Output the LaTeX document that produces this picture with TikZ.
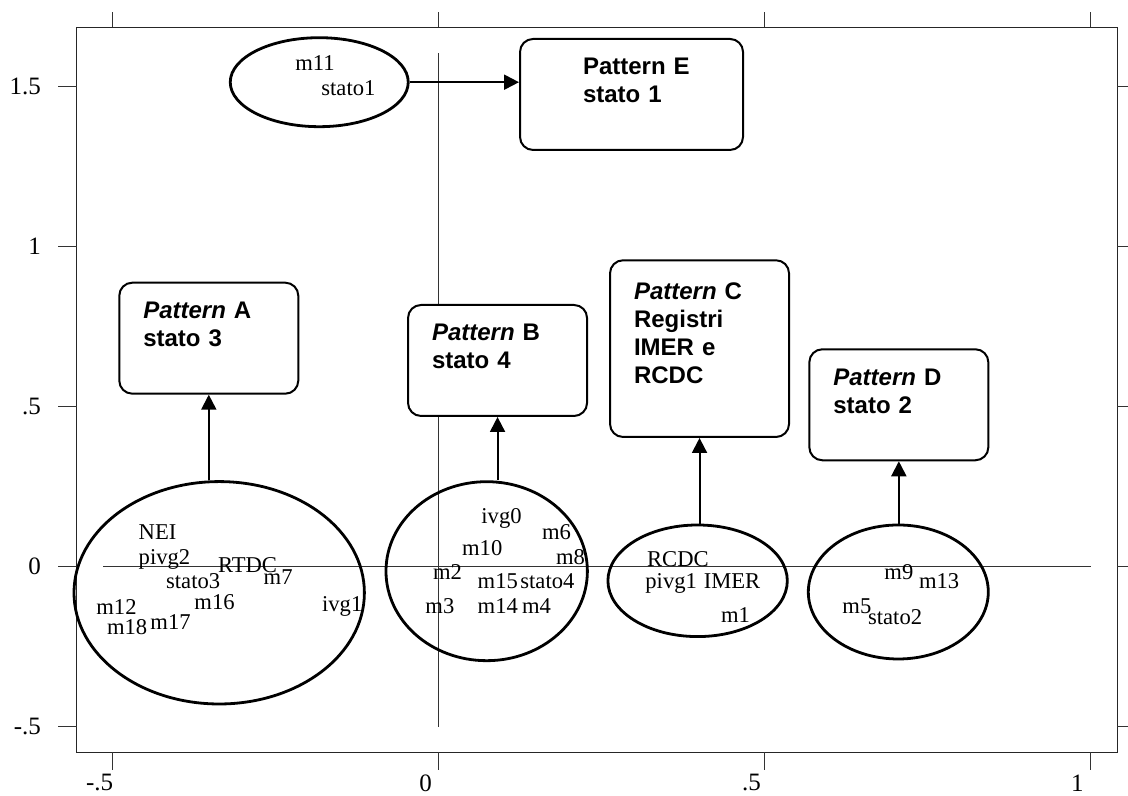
\documentclass[tikz,border=0pt]{standalone}
\usepackage{fontspec}
\setmainfont{Liberation Serif}
\newfontfamily\arialfont{Liberation Sans}
\usetikzlibrary{shapes.geometric, arrows.meta}

\tikzset{
  grp/.style = {draw, ellipse, line width=1.4pt, inner sep=0pt},
  pat/.style = {draw, fill=white, rounded corners=6.5pt, line width=1pt, anchor=north west,
    inner xsep=12pt, inner ysep=0pt, text width=65.5pt, align=left,
    text height=18pt, text depth=37.5pt, font=\arialfont\fontsize{12}{14}\selectfont\bfseries},
  lab/.style = {anchor=base west, inner sep=0pt, font=\fontsize{11.3}{13}\selectfont},
  arr/.style = {line width=1pt, -{Triangle[length=7.5pt, width=7.5pt]}},
  tck/.style = {line width=0.5pt, black!80}
}

\begin{document}
\begin{tikzpicture}[x=325.9pt, y=160pt]
\useasboundingbox (-0.6728,-0.7166) rectangle (1.0578,1.7709);
\draw[line width=0.7pt, black!85] (-0.5551,-0.58) rectangle (1.0414,1.6856);
\foreach \x/\t in {-0.5/-.5, 0/0, 0.5/.5, 1/1} {
  \draw[tck] (\x,1.6856) -- (\x,1.7344);
  \draw[tck] (\x,-0.58) -- (\x,-0.6356);
  \node[font=\fontsize{12.5}{14}\selectfont] (xl\t) at ([xshift=-6.5pt]\x,-0.6759) {\t};
}
\foreach \y/\t in {-0.5/-.5, 0/0, 0.5/.5, 1/1, 1.5/1.5} {
  \draw[tck] (-0.5551,\y) -- (-0.5838,\y);
  \draw[tck] (1.0414,\y) -- (1.0578,\y);
  \node[anchor=east, font=\fontsize{12.5}{14}\selectfont] (yl\t) at (-0.5991,\y) {\t};
}
\draw[tck] (-0.514,0) -- (1.001,0);
\draw[tck] (0,-0.5) -- (0,1.604);

\node[grp, minimum width=89pt, minimum height=44.5pt] (gE) at (-0.183,1.514) {};
\node[grp, minimum width=145.2pt, minimum height=111.2pt] (gA) at (-0.3365,-0.0816) {};
\node[grp, minimum width=100.7pt, minimum height=89.5pt] (gB) at (0.0739,-0.0141) {};
\node[grp, minimum width=89.7pt, minimum height=55.8pt] (gC) at (0.3975,-0.0441) {};
\node[grp, minimum width=90pt, minimum height=67pt] (gD) at (0.7054,-0.0791) {};

\node[pat] (pA) at (-0.4913,0.8906) {\textit{Pattern} A\\stato 3};
\node[pat] (pB) at (-0.0483,0.8209) {\textit{Pattern} B\\stato 4};
\node[pat, text height=19.5pt, text depth=68.85pt] (pC) at (0.2616,0.9606) {\textit{Pattern} C\\Registri\\IMER e\\RCDC};
\node[pat] (pD) at (0.5674,0.6825) {\textit{Pattern} D\\stato 2};
\node[pat, inner xsep=31.5pt, text width=48.5pt] (pE) at (0.1235,1.6522) {\mbox{Pattern E}\\stato 1};

\draw[arr] (gE.east) -- (gE.east -| pE.west);
\draw[arr] (pA.south |- gA.north) -- (pA.south);
\draw[arr] (pB.south |- gB.north) -- (pB.south);
\draw[arr] (pC.south |- gC.north) -- (pC.south);
\draw[arr] (pD.south |- gD.north) -- (pD.south);

\foreach \t/\x/\y in {m11/-0.2202/1.5491, stato1/-0.1803/1.4719,
  NEI/-0.4606/0.0834, pivg2/-0.4606/0.0075, RTDC/-0.3388/-0.0175, m7/-0.2688/-0.055,
  stato3/-0.4185/-0.0697, m16/-0.3751/-0.1353, ivg1/-0.1792/-0.1406, m12/-0.5255/-0.1509,
  m18/-0.5091/-0.2134, m17/-0.4426/-0.1978,
  ivg0/0.0652/0.1356, m6/0.1583/0.0834, m10/0.0356/0.0334, m8/0.1798/0.0075,
  m2/-0.0089/-0.0394, m15/0.0595/-0.0697, stato4/0.125/-0.0697, m3/-0.0207/-0.1456,
  m14/0.0595/-0.1456, m4/0.1276/-0.1456,
  RCDC/0.3194/0, pivg1/0.3168/-0.0675, IMER/0.4063/-0.0675, m1/0.433/-0.1738,
  m9/0.6835/-0.0416, m13/0.7367/-0.0675, m5/0.6191/-0.1456, stato2/0.6585/-0.1822}
  \node[lab] (\t) at (\x,\y) {\t};
\end{tikzpicture}
\end{document}
